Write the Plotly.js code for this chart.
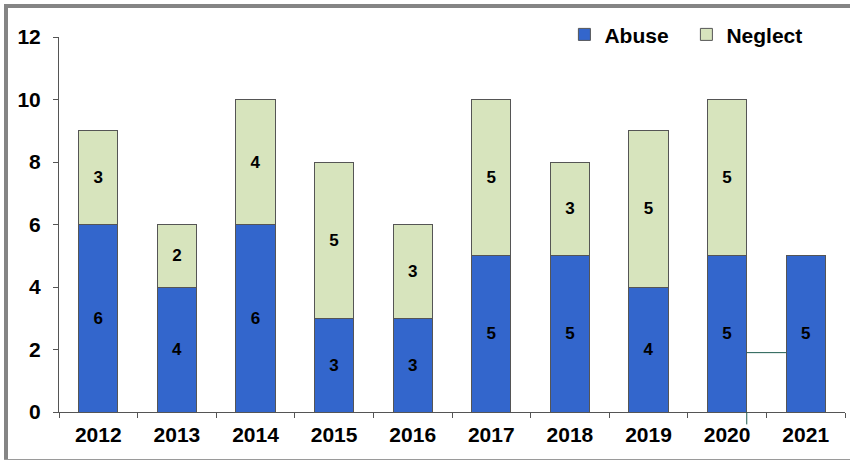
<!DOCTYPE html>
<html>
<head>
<meta charset="utf-8">
<script src="https://cdn.plot.ly/plotly-3.0.1.min.js"></script>
<style>
html,body{margin:0;padding:0;background:#fff;}
#wrap{position:relative;width:850px;height:461px;overflow:hidden;}
#chart{position:absolute;left:0;top:0;width:850px;height:461px;}
.bl{position:absolute;left:4px;top:4px;width:4px;height:456px;background:#858585;}
.bt{position:absolute;left:4px;top:4px;width:846px;height:4px;background:#858585;}
.bb{position:absolute;left:4px;top:459px;width:846px;height:1px;background:#9a9a9a;}
</style>
</head>
<body>
<div id="wrap">
<div id="chart"></div>
<div class="bl"></div><div class="bt"></div><div class="bb"></div>
</div>
<script>
const years = ['2012','2013','2014','2015','2016','2017','2018','2019','2020','2021'];
const abuse = [6,4,6,3,3,5,5,4,5,5];
const neglect = [3,2,4,5,3,5,3,5,5,0];
const yTicks = [0,2,4,6,8,10,12];

const lab = arr => arr.map(v => v > 0 ? String(v) : '');
const font = {family:'Liberation Sans, Arial, sans-serif', color:'#000'};

const traces = [
  {type:'bar', name:'Abuse', x:years, y:abuse, text:lab(abuse), textposition:'inside',
   insidetextanchor:'middle', textangle:0,
   textfont:Object.assign({size:17, weight:'bold'}, font),
   marker:{color:'#3366CC', line:{color:'#555555', width:1}}, hoverinfo:'skip'},
  {type:'bar', name:'Neglect', x:years, y:neglect, text:lab(neglect), textposition:'inside',
   insidetextanchor:'middle', textangle:0,
   textfont:Object.assign({size:17, weight:'bold'}, font),
   marker:{color:'#D7E4BD', line:{color:'#555555', width:1}}, hoverinfo:'skip'}
];

const layout = {
  width:850, height:461,
  margin:{l:59, r:5, t:37, b:49, pad:0},
  barmode:'stack', bargap:0.5,
  paper_bgcolor:'rgba(0,0,0,0)', plot_bgcolor:'#fff',
  showlegend:true,
  legend:{orientation:'h', x:0.643, y:1.006, xanchor:'left', yanchor:'middle',
          font:Object.assign({size:21, weight:'bold'}, font),
          itemwidth:30, entrywidth:77, traceorder:'normal', bgcolor:'rgba(0,0,0,0)'},
  uniformtext:{mode:false},
  xaxis:{type:'category', showgrid:false, zeroline:false, showline:true, linecolor:'#555', linewidth:1,
         ticks:'outside', tickson:'boundaries', ticklen:5, tickcolor:'#555', ticklabelstandoff:4,
         tickfont:Object.assign({size:21, weight:'bold'}, font), fixedrange:true},
  yaxis:{range:[0,12], tickvals:yTicks, showgrid:false, zeroline:false, showline:true,
         linecolor:'#555', linewidth:1, ticks:'outside', ticklen:5, tickcolor:'#555', ticklabelstandoff:8,
         tickfont:Object.assign({size:21, weight:'bold'}, font), fixedrange:true},
  shapes:[
    {type:'line', xref:'x', yref:'y', x0:8.25, x1:8.75, y0:1.9, y1:1.9, line:{color:'#1f5c4f', width:1}},
    {type:'line', xref:'x', yref:'paper', x0:8.25, x1:8.25, y0:0, y1:-0.033, line:{color:'#1f5c4f', width:1}}
  ]
};

Plotly.newPlot('chart', traces, layout, {staticPlot:true, displayModeBar:false});
</script>
</body>
</html>
